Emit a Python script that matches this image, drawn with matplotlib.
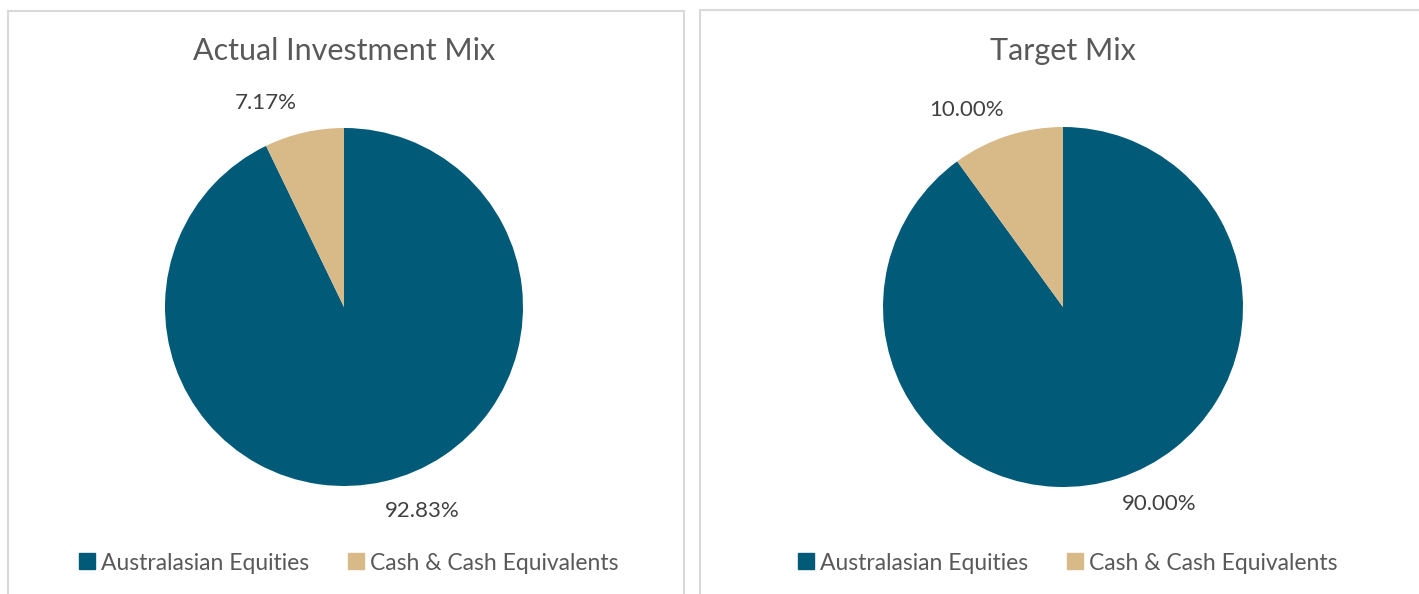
import numpy as np
import matplotlib
matplotlib.use("Agg")
import matplotlib.pyplot as plt
from matplotlib.patches import Rectangle
from matplotlib.lines import Line2D

plt.rcParams['font.family'] = ['Lato', 'DejaVu Sans']

# data
categories = ["Australasian Equities", "Cash & Cash Equivalents"]
actual_mix = [92.83, 7.17]
target_mix = [90.00, 10.00]
titles = ["Actual Investment Mix", "Target Mix"]

colors = ["#005A78", "#D8BA88"]
text_color = "#595959"

W, H = 1419, 594
fig = plt.figure(figsize=(W / 100, H / 100), dpi=100)

# panel frames (pixels: x0, x1, top)
panels = [(8, 684, 11), (700, 1430, 10)]
for x0, x1, top in panels:
    fig.patches.append(Rectangle((x0 / W, -0.05), (x1 - x0) / W, 1 - top / H + 0.05,
                                 transform=fig.transFigure, fill=False,
                                 edgecolor="#D9D9D9", linewidth=1.5))

# pie centres and radii in pixels
pies = [(344, 307, 179, actual_mix), (1063, 307, 180, target_mix)]

for (cx, cy, r, vals), title in zip(pies, titles):
    ax = fig.add_axes([(cx - r) / W, (H - cy - r) / H, 2 * r / W, 2 * r / H])
    wedges, _ = ax.pie(vals, colors=colors, startangle=90, counterclock=False,
                       radius=1, wedgeprops=dict(linewidth=0))
    ax.set_xlim(-1, 1)
    ax.set_ylim(-1, 1)
    ax.set_aspect("equal")
    ax.axis("off")
    # data labels outside, rotated a little like Excel's best fit
    for w, v in zip(wedges, vals):
        ang = np.deg2rad((w.theta1 + w.theta2) / 2 + 8)
        ax.text(1.22 * np.cos(ang), 1.22 * np.sin(ang), f"{v:.2f}%",
                ha="center", va="center", fontsize=16, color="#404040")
    fig.text(cx / W, 1 - 51 / H, title, ha="center", va="center",
             fontsize=22, color=text_color)

    handles = [Line2D([], [], marker="s", linestyle="", markersize=11,
                      markerfacecolor=c, markeredgecolor=c) for c in colors]
    fig.legend(handles, categories, loc="center", ncol=2,
               bbox_to_anchor=((cx + 5) / W, 1 - 563 / H), frameon=False,
               fontsize=16.5, labelcolor=text_color, handletextpad=0.25,
               columnspacing=1.7, handlelength=0.7)

fig.savefig("out.png", dpi=100)
